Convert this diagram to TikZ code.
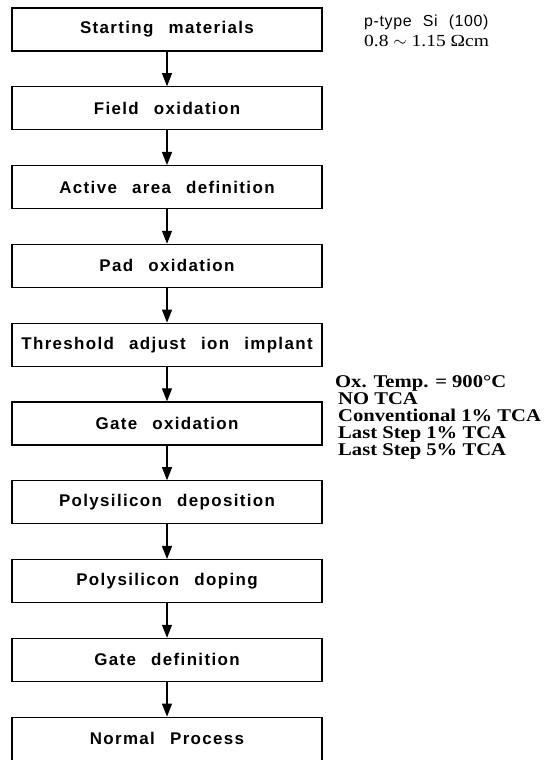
\documentclass[tikz,border=0pt]{standalone}
\usepackage{fontspec}
\setmainfont{Liberation Serif}
\newfontfamily\stepfont[LetterSpace=8,WordSpace=2.5]{Liberation Sans Bold}
\newfontfamily\labelfont[LetterSpace=4,WordSpace=2.2]{Liberation Sans}
\newfontfamily\notefont[FakeStretch=1.15]{Liberation Serif}
\usetikzlibrary{arrows.meta}

\begin{document}
\begin{tikzpicture}[x=1bp, y=1bp,
  stepbox/.style={draw, line width=1.2pt, minimum width=310bp, minimum height=43bp, inner sep=0pt, font=\stepfont\fontsize{17}{20}\selectfont},
  flow/.style={-{Triangle[width=10bp,length=13bp]}, line width=1.2pt},
  note/.style={inner sep=0pt, align=left},
]
\useasboundingbox (0,0) rectangle (551,760);
% === Process steps ===
\node[stepbox] (start) at (167,730.5) {Starting materials};
\node[stepbox] (fox) at (167,651.7) {Field oxidation};
\node[stepbox] (active) at (167,572.9) {Active area definition};
\node[stepbox] (pad) at (167,494.1) {Pad oxidation};
\node[stepbox] (vt) at (167,415.3) {Threshold adjust ion implant};
\node[stepbox] (gox) at (167,336.5) {Gate oxidation};
\node[stepbox] (polydep) at (167,257.7) {Polysilicon deposition};
\node[stepbox] (polydop) at (167,178.9) {Polysilicon doping};
\node[stepbox] (gatedef) at (167,100.1) {Gate definition};
\node[stepbox] (normal) at (167,21.3) {Normal Process};
\draw[flow] (start) -- (fox);
\draw[flow] (fox) -- (active);
\draw[flow] (active) -- (pad);
\draw[flow] (pad) -- (vt);
\draw[flow] (vt) -- (gox);
\draw[flow] (gox) -- (polydep);
\draw[flow] (polydep) -- (polydop);
\draw[flow] (polydop) -- (gatedef);
\draw[flow] (gatedef) -- (normal);
% === Notes ===
\node[note, anchor=base west, font=\labelfont\fontsize{16}{18}\selectfont] (wafer) at (364,733) {p-type Si (100)};
\node[note, anchor=base west, font=\notefont\fontsize{17}{18}\selectfont] (resist) at (364,713) {0.8 $\sim$ 1.15 Ωcm};
\node[note, anchor=north west, font=\notefont\bfseries\fontsize{18}{17}\selectfont] (oxcond) at (335,384.5)
  {Ox. Temp. = 900°C\\
   \hspace*{3bp}NO TCA\\
   \hspace*{3bp}Conventional 1\% TCA\\
   \hspace*{3bp}Last Step 1\% TCA\\
   \hspace*{3bp}Last Step 5\% TCA};
\end{tikzpicture}
\end{document}
